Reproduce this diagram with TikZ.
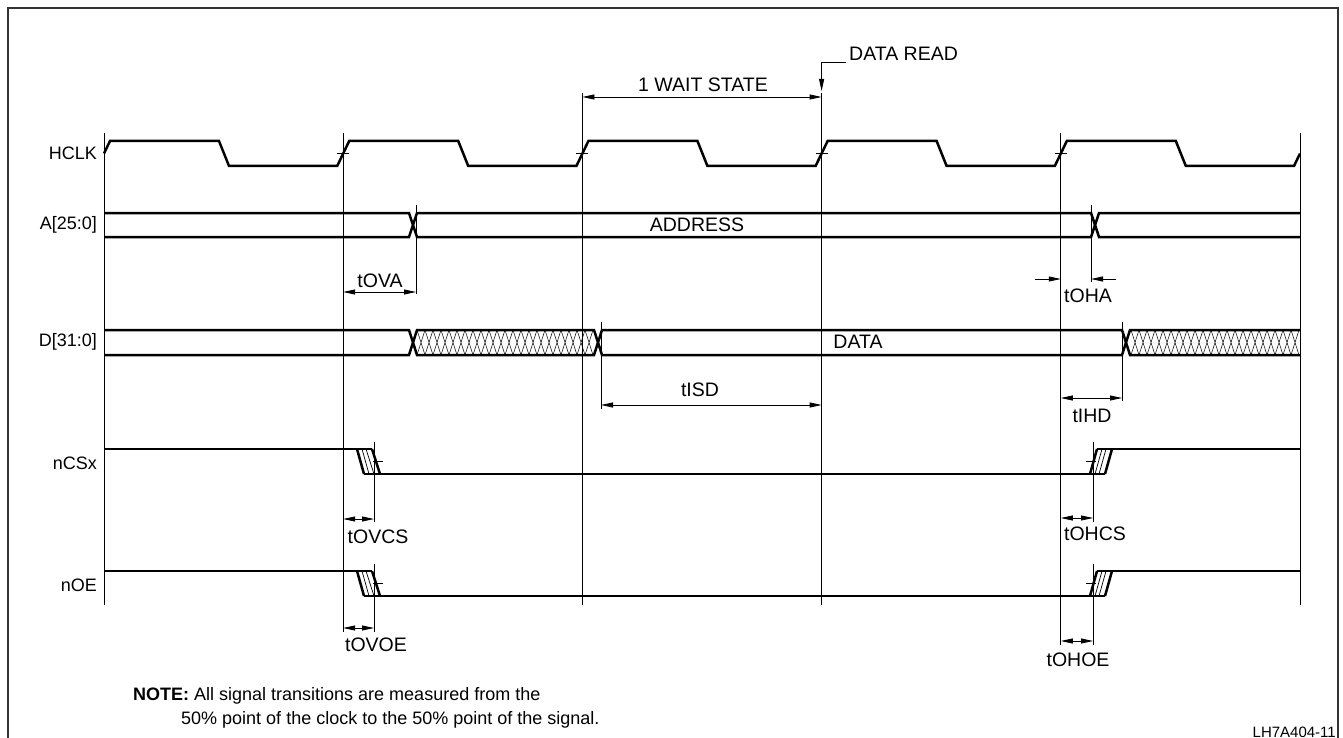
\documentclass[tikz,border=0pt]{standalone}
\usepackage{fontspec}
\setmainfont{Liberation Sans}
\usetikzlibrary{arrows.meta}

\tikzset{
  wave/.style={line width=2.5pt, line join=miter},
  thinwave/.style={line width=0.7pt},
  guide/.style={line width=0.8pt},
  hatch/.style={line width=0.5pt},
  dim/.style={line width=0.8pt, {Triangle[length=12pt,width=5pt]}-{Triangle[length=12pt,width=5pt]}},
  dimin/.style={line width=0.8pt, -{Triangle[length=12pt,width=5pt]}},
  lbl/.style={font=\fontsize{19.5}{21}\selectfont, inner sep=0pt},
  sig/.style={font=\fontsize{18}{20}\selectfont, inner sep=0pt, anchor=east},
}

\begin{document}
\begin{tikzpicture}[x=1pt, y=-1pt]
\useasboundingbox (0,0) rectangle (1343,738);

% frame
\draw[line width=1.6pt, black!80] (8,738) -- (8,8) -- (1338,8) -- (1338,738);

% signal names
\node[sig] (hclk) at (97,153) {HCLK};
\node[sig] (addr) at (97,225) {A[25:0]};
\node[sig] (data) at (97,342) {D[31:0]};
\node[sig] (ncs) at (97,463) {nCSx};
\node[sig] (noe) at (97,585) {nOE};

% clock edge guides
\draw[guide] (104,133) -- (104,605);
\draw[guide] (343.2,133) -- (343.2,632);
\draw[guide] (582.4,93) -- (582.4,605);
\draw[guide] (821.6,93) -- (821.6,605);
\draw[guide] (1060.8,133) -- (1060.8,645);
\draw[guide] (1300,133) -- (1300,605);

% HCLK
\draw[wave] (104,153.5) -- (110,141)
  \foreach \t in {104,343.2,582.4,821.6} {-- (\t+115,141) -- (\t+125,166) -- (\t+233.2,166) -- (\t+245.2,141)}
  -- (1175.8,141) -- (1185.8,166) -- (1294,166) -- (1300,153.5);
\foreach \t in {343.2,582.4,821.6,1060.8}
  \draw[guide] (\t-6,153.5) -- (\t+6,153.5);

% A[25:0]
\draw[wave] (104,213) -- (409,213) -- (417,237) -- (1091,237) -- (1099,213) -- (1300,213);
\draw[wave] (104,237) -- (409,237) -- (417,213) -- (1091,213) -- (1099,237) -- (1300,237);
\node[lbl] (address) at (697,225) {ADDRESS};

% D[31:0]
\draw[wave] (104,330) -- (409,330) -- (417,355) -- (594,355) -- (602,330) -- (1122,330) -- (1130,355) -- (1300,355);
\draw[wave] (104,355) -- (409,355) -- (417,330) -- (594,330) -- (602,355) -- (1122,355) -- (1130,330) -- (1300,330);
\foreach \x in {417,425,...,585}
  \draw[hatch] (\x,330) -- (\x+8,355) (\x+8,330) -- (\x,355);
\foreach \x in {1131,1139,...,1291}
  \draw[hatch] (\x,330) -- (\x+8,355) (\x+8,330) -- (\x,355);
\node[lbl] (datatxt) at (858,342) {DATA};

% nCSx and nOE
\foreach \hi/\lo in {449/474,571/596}{
  \draw[wave] (104,\hi) -- (372,\hi);
  \draw[wave] (357,\hi) -- (364,\lo);
  \draw[wave] (372,\hi) -- (380,\lo);
  \draw[thinwave] (362,\hi) -- (369,\lo) (366,\hi) -- (374,\lo);
  \draw[wave] (364,\lo) -- (1105,\lo);
  \draw[wave] (1090,\lo) -- (1097,\hi);
  \draw[wave] (1105,\lo) -- (1112,\hi);
  \draw[thinwave] (1095,\lo) -- (1102,\hi) (1099,\lo) -- (1106,\hi);
  \draw[wave] (1097,\hi) -- (1300,\hi);
  \draw[guide] (373,\hi+12.5) -- (383,\hi+12.5);
  \draw[guide] (1086,\hi+12.5) -- (1096,\hi+12.5);
}

% extension lines
\draw[guide] (416,205) -- (416,294);
\draw[guide] (1091,205) -- (1091,282);
\draw[guide] (601,322) -- (601,409);
\draw[guide] (1122,322) -- (1122,401);
\draw[guide] (374,442) -- (374,522);
\draw[guide] (374,564) -- (374,632);
\draw[guide] (1093,442) -- (1093,522);
\draw[guide] (1093,564) -- (1093,645);

% timing dimensions
\draw[dim] (582.4,97) -- (821.6,97);
\node[lbl] (wait) at (703,85) {1 WAIT STATE};
\draw[dimin] (846,62) -- (821.6,62) -- (821.6,91);
\node[lbl, anchor=west] (dread) at (849,54) {DATA READ};

\draw[dim] (343.2,292) -- (416,292);
\node[lbl] (tova) at (380,281) {tOVA};
\draw[dimin] (1035,279) -- (1060.8,279);
\draw[dimin] (1116,279) -- (1091,279);
\node[lbl] (toha) at (1088,296) {tOHA};

\draw[dim] (601,405) -- (821.6,405);
\node[lbl] (tisd) at (700,390) {tISD};
\draw[dim] (1060.8,398) -- (1122,398);
\node[lbl] (tihd) at (1092,416) {tIHD};

\draw[dim] (343.2,519) -- (374,519);
\node[lbl] (tovcs) at (378,537) {tOVCS};
\draw[dim] (1060.8,518) -- (1093,518);
\node[lbl] (tohcs) at (1095,534) {tOHCS};

\draw[dim] (343.2,628) -- (374,628);
\node[lbl] (tovoe) at (376,645) {tOVOE};
\draw[dim] (1060.8,641) -- (1093,641);
\node[lbl] (tohoe) at (1078,660) {tOHOE};

% note
\node[sig, anchor=west] (note1) at (133,696) {\textbf{NOTE:} All signal transitions are measured from the};
\node[sig, anchor=west] (note2) at (181,720) {50\% point of the clock to the 50\% point of the signal.};
\node[sig, font=\fontsize{15}{17}\selectfont, anchor=east] (figid) at (1336,732) {LH7A404-11};
\end{tikzpicture}
\end{document}
